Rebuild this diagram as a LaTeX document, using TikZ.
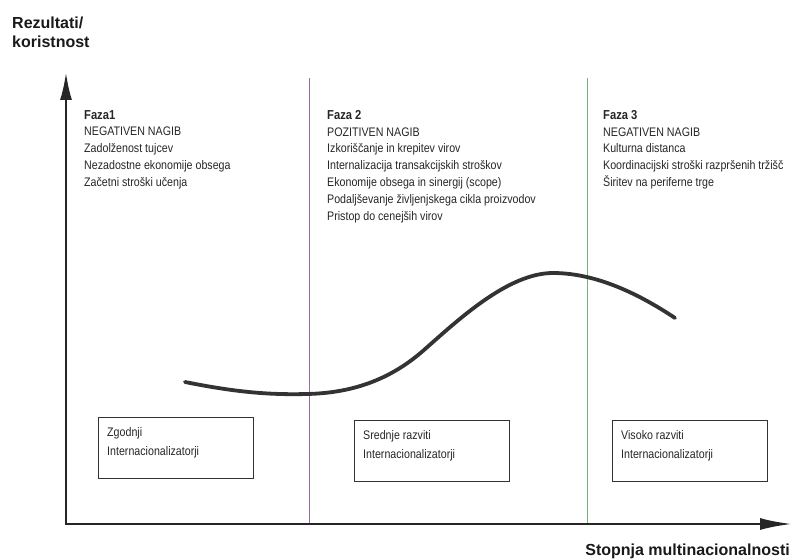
\documentclass[tikz,border=0pt]{standalone}
\usepackage{fontspec}
\setmainfont{Liberation Sans}
\newfontfamily\condfont[FakeStretch=0.86]{Liberation Sans}
\usepackage{tikz}
\usetikzlibrary{positioning, arrows.meta}

\newcommand{\fazahead}[1]{{\bfseries\fontsize{13}{16.8}\selectfont #1}}

\begin{document}
\begin{tikzpicture}[x=1pt, y=-1pt,
        phase/.style={anchor=north west, inner sep=0pt, align=left, text=black!85, font=\condfont\fontsize{12.4}{16.8}\selectfont},
        stage/.style={draw=black!80, line width=0.9pt, minimum width=155pt, minimum height=61pt, anchor=north west, inner sep=0pt},
        stagetext/.style={anchor=north west, inner sep=0pt, align=left, text=black!85, font=\condfont\fontsize{12.4}{19}\selectfont},
        axis/.style={draw=black!85, line width=2.6pt, {Latex[length=28pt,width=12pt]}-{Latex[length=32pt,width=12pt]}},
        axislabel/.style={inner sep=0pt, align=left, text=black!90, font=\bfseries\fontsize{16}{19}\selectfont},
        curve/.style={draw=black!80, line width=3.8pt, line cap=round}]
    \useasboundingbox (0,0) rectangle (798,559);

    \coordinate (ytip) at (66, 72);
    \coordinate (xtip) at (792, 524);
    \draw[axis] (ytip) |- (xtip);

    \draw[line width=0.9pt, color={rgb,255:red,150;green,110;blue,160}] (309, 78) -- (309, 523);
    \draw[line width=0.9pt, color={rgb,255:red,120;green,175;blue,120}] (587, 78) -- (587, 523);

    \node[axislabel, anchor=north west] (ylab) at (12, 17) {Rezultati/\\koristnost};
    \node[axislabel, anchor=base east] (xlab) at (790, 555) {Stopnja multinacionalnosti};

    \node[phase] (f1) at (84, 110) {\fazahead{Faza1}\\NEGATIVEN NAGIB\\Zadolženost tujcev\\Nezadostne ekonomije obsega\\Začetni stroški učenja};
    \node[phase] (f2) at (327, 110) {\fazahead{Faza 2}\\POZITIVEN NAGIB\\Izkoriščanje in krepitev virov\\Internalizacija transakcijskih stroškov\\Ekonomije obsega in sinergij (scope)\\Podaljševanje življenjskega cikla proizvodov\\Pristop do cenejših virov};
    \node[phase] (f3) at (603, 110) {\fazahead{Faza 3}\\NEGATIVEN NAGIB\\Kulturna distanca\\Koordinacijski stroški razpršenih tržišč\\Širitev na periferne trge};

    \draw[curve] (185, 382) .. controls (235, 392) and (268, 395) .. (307, 394)
        .. controls (352, 393) and (390, 380) .. (424, 350)
        .. controls (458, 320) and (508, 273) .. (553, 273)
        .. controls (598, 273) and (642, 296) .. (675, 318);

    \node[stage] (b1) at (98, 417) {};
    \node[stage] (b2) at (354, 420) {};
    \node[stage] (b3) at (612, 420) {};
    \node[stagetext] (t1) at ([shift={(9, 10)}]b1.north west) {Zgodnji\\Internacionalizatorji};
    \node[stagetext] (t2) at ([shift={(9, 10)}]b2.north west) {Srednje razviti\\Internacionalizatorji};
    \node[stagetext] (t3) at ([shift={(9, 10)}]b3.north west) {Visoko razviti\\Internacionalizatorji};
\end{tikzpicture}
\end{document}
